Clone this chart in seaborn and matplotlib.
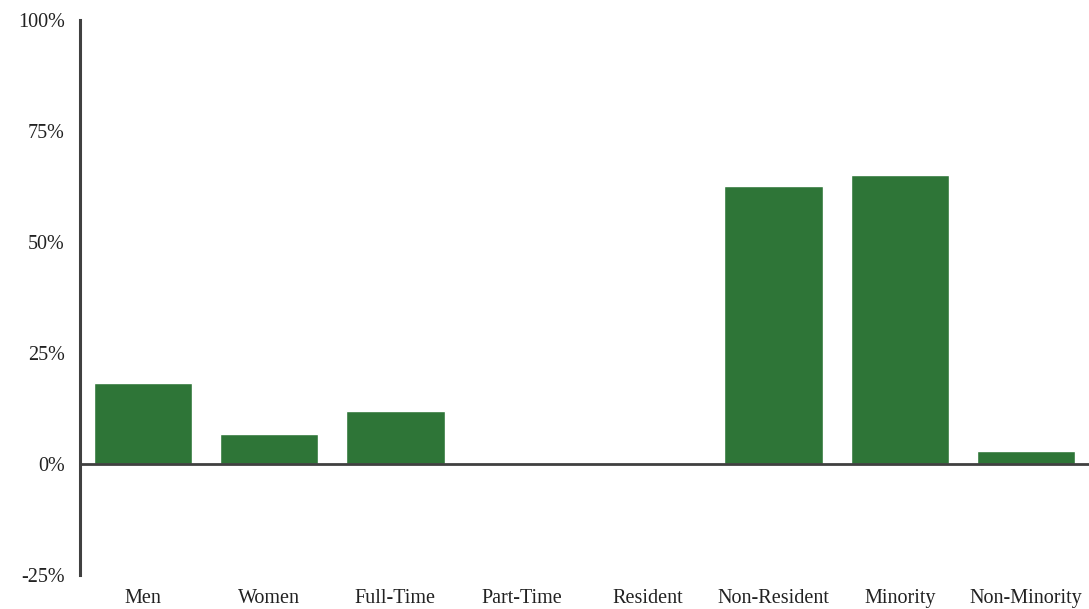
import matplotlib
matplotlib.use("Agg")
import matplotlib.pyplot as plt
import matplotlib.ticker as mticker
import seaborn as sns
import pandas as pd

categories = ["Men", "Women", "Full-Time", "Part-Time", "Resident",
              "Non-Resident", "Minority", "Non-Minority"]
values = [18.2, 6.8, 11.9, 0.0, 0.0, 62.6, 65.1, 2.9]
y_ticks = [-25, 0, 25, 50, 75, 100]

df = pd.DataFrame({"group": categories, "pct": values})

sns.set_style("white")
plt.rcParams["font.family"] = ["Liberation Serif", "DejaVu Serif"]

fig = plt.figure(figsize=(10.89, 6.09), dpi=100)
ax = fig.add_axes([80 / 1089, 1 - 575 / 609, 1 - 80 / 1089, (575 - 20) / 609])

sns.barplot(data=df, x="group", y="pct", color="#2E7537", saturation=1,
            width=0.78, ax=ax)

# zero line across the plot
ax.axhline(0, color="#404040", lw=2.0, zorder=3)
ax.set_ylim(-25, 100)
ax.set_xlim(-0.5, len(categories) - 0.5)
ax.set_yticks(y_ticks)
ax.yaxis.set_major_formatter(mticker.FuncFormatter(lambda v, p: f"{v:.0f}%"))
ax.set_xlabel("")
ax.set_ylabel("")

for s in ["top", "right", "bottom"]:
    ax.spines[s].set_visible(False)
ax.spines["left"].set_color("#404040")
ax.spines["left"].set_linewidth(2.2)

ax.tick_params(axis="both", length=0, labelsize=14.5, colors="#222222")
ax.tick_params(axis="x", pad=10)
ax.tick_params(axis="y", pad=11)

fig.savefig("out.png", dpi=100)
